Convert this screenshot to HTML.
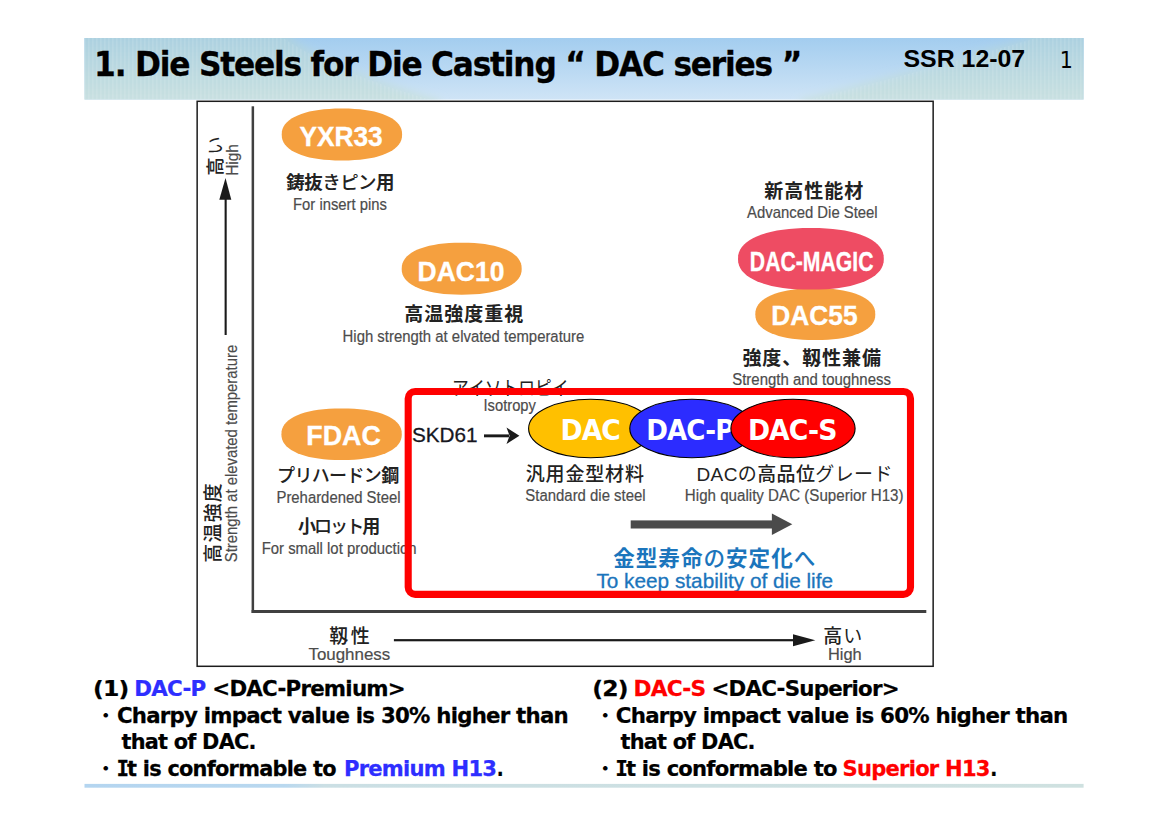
<!DOCTYPE html>
<html lang="en">
<head>
<meta charset="utf-8">
<title>1. Die Steels for Die Casting “ DAC series ”</title>
<style>
html,body{margin:0;padding:0;background:#fff;}
body{width:1168px;height:826px;overflow:hidden;position:relative;}
svg{position:absolute;left:0;top:0;display:block;}
text{white-space:pre;}
.tb{font-family:"DejaVu Sans","Liberation Sans",sans-serif;font-weight:700;fill:#000;}
.ar{font-family:"Liberation Sans",sans-serif;fill:#000;}
.dj{font-family:"DejaVu Sans","Liberation Sans",sans-serif;fill:#000;}
.en{font-family:"Liberation Sans",sans-serif;fill:#4c4c4c;stroke:#4c4c4c;stroke-width:0.2px;}
.jp{font-family:"Liberation Sans","Noto Sans CJK JP",sans-serif;fill:#222;font-weight:700;}
.jm{font-family:"Liberation Sans","Noto Sans CJK JP",sans-serif;fill:#222;font-weight:500;}
.jr{font-family:"Liberation Sans","Noto Sans CJK JP",sans-serif;fill:#222;font-weight:400;}
.lab{font-family:"Liberation Sans",sans-serif;font-weight:700;fill:#fff;stroke:#fff;stroke-width:0.35px;}
.big{font-family:"DejaVu Sans","Liberation Sans",sans-serif;font-weight:700;fill:#fff;}
.m{font-weight:500;}
.r{font-weight:400;}
.mi{font-family:"DejaVu Sans Mono","DejaVu Sans",monospace;}
.b{font-weight:700;}
.cb{fill:#2e2eff;}
.cr{fill:#ff0000;}
.sk{fill:#1b75bc;}
</style>
</head>
<body>
<svg width="1168" height="826" viewBox="0 0 1168 826">
<defs>
<linearGradient id="sky" x1="0" y1="0" x2="0" y2="1">
<stop offset="0" stop-color="#a3cdef"/><stop offset="1" stop-color="#cfe4f6"/>
</linearGradient>
<linearGradient id="hz" x1="0" y1="0" x2="0" y2="1">
<stop offset="0" stop-color="#a9cfe0"/><stop offset="1" stop-color="#cde3e1"/>
</linearGradient>
<linearGradient id="foot" x1="0" y1="0" x2="1" y2="0">
<stop offset="0" stop-color="#b4d5f0"/><stop offset="0.2" stop-color="#b9d8ef"/><stop offset="0.24" stop-color="#cbdfe4"/><stop offset="1" stop-color="#cfe1e0"/>
</linearGradient>
<clipPath id="hclip"><rect x="84.5" y="38" width="999.1" height="61.6"/></clipPath>
<clipPath id="tclip"><path d="M70,30 L283,30 L283,38 C312,58 372,84 432,100 L432,110 L70,110 Z"/><path d="M1100,30 L1036,30 L1036,38 C968,58 888,80 808,100 L808,110 L1100,110 Z"/></clipPath>
<filter id="soft" x="-5%" y="-20%" width="110%" height="140%"><feGaussianBlur stdDeviation="4"/></filter>
<pattern id="stripes" x="0" y="0" width="4" height="4" patternUnits="userSpaceOnUse"><rect x="0" y="0" width="1.6" height="4" fill="#fff" opacity="0.10"/></pattern>
</defs>

<!-- header band -->
<g id="header">
<rect x="84.5" y="38" width="999.1" height="61.6" fill="url(#sky)"/>
<g clip-path="url(#hclip)"><g filter="url(#soft)">
<path d="M70,30 L291,30 L291,38 C320,58 380,84 440,100 L440,110 L70,110 Z" fill="url(#hz)"/>
<path d="M1100,30 L1028,30 L1028,38 C960,58 880,80 800,100 L800,110 L1100,110 Z" fill="url(#hz)"/>
</g>
<g clip-path="url(#tclip)"><rect x="84.5" y="38" width="999.1" height="61.6" fill="url(#stripes)"/></g>
</g>
<text class="tb stk" transform="translate(94.11 76.30) scale(0.9338 1)" style="font-size:33.5px;letter-spacing:-1.300px;stroke:#000;stroke-width:0.3px;">1. Die Steels for Die Casting “ DAC series ”</text>
<text class="ar" transform="translate(903.51 67.40) scale(1.0202 1)" style="font-size:24.4px;font-weight:700;">SSR 12-07</text>
<text class="dj" transform="translate(1059.74 67.50) scale(0.9290 1)" style="font-size:22.2px;">1</text>
</g>

<!-- chart -->
<g id="chart">
<rect x="197.15" y="101.3" width="736" height="565" fill="#fff" stroke="#1c1c1c" stroke-width="1.5"/>
<rect x="251.6" y="106.3" width="2.5" height="506.7" fill="#404040"/>
<rect x="251.6" y="610" width="674.7" height="3" fill="#404040"/>

<text class="jm" transform="translate(221.52 175.84) rotate(-90)" style="font-size:18.5px;letter-spacing:2.686px;">高<tspan class="r">い</tspan></text>
<text class="en" transform="translate(237.90 175.84) rotate(-90) scale(0.9363 1)" style="font-size:16.5px;">High</text>
<polygon points="225.5,178 231.3,199.8 219.3,199.8" fill="#1a1a1a"/>
<rect x="224.6" y="199" width="2.1" height="136" fill="#1a1a1a"/>
<text class="jm" transform="translate(220.42 562.66) rotate(-90)" style="font-size:19px;letter-spacing:1.178px;">高温強度</text>
<text class="en" transform="translate(236.50 562.25) rotate(-90) scale(0.8859 1)" style="font-size:16.8px;">Strength at elevated temperature</text>

<text class="jm" transform="translate(329.22 643.44)" style="font-size:19px;letter-spacing:2.545px;">靱性</text>
<text class="en" transform="translate(308.42 660.00) scale(1.0078 1)" style="font-size:16.8px;">Toughness</text>
<rect x="393.9" y="639.1" width="401" height="2.2" fill="#1a1a1a"/>
<polygon points="815.3,640.3 793,634.2 793,646.3" fill="#1a1a1a"/>
<text class="jm" transform="translate(823.14 643.42)" style="font-size:19px;letter-spacing:1.196px;">高<tspan class="r">い</tspan></text>
<text class="en" transform="translate(828.02 660.00) scale(0.9764 1)" style="font-size:16.8px;">High</text>

<path d="M402.1,134.5 L401.9,137.5 L401.3,140.0 L400.3,142.3 L398.9,144.5 L397.1,146.6 L394.9,148.5 L392.3,150.4 L389.4,152.1 L386.1,153.6 L382.5,155.0 L378.6,156.3 L374.4,157.4 L369.9,158.3 L365.1,159.1 L360.0,159.7 L354.6,160.1 L348.8,160.4 L341.9,160.5 L335.0,160.4 L329.2,160.1 L323.8,159.7 L318.7,159.1 L313.9,158.3 L309.4,157.4 L305.2,156.3 L301.3,155.0 L297.7,153.6 L294.4,152.1 L291.5,150.4 L288.9,148.5 L286.7,146.6 L284.9,144.5 L283.5,142.3 L282.5,140.0 L281.9,137.5 L281.7,134.5 L281.9,131.5 L282.5,129.0 L283.5,126.7 L284.9,124.5 L286.7,122.4 L288.9,120.5 L291.5,118.6 L294.4,116.9 L297.7,115.4 L301.3,114.0 L305.2,112.7 L309.4,111.6 L313.9,110.7 L318.7,109.9 L323.8,109.3 L329.2,108.9 L335.0,108.6 L341.9,108.5 L348.8,108.6 L354.6,108.9 L360.0,109.3 L365.1,109.9 L369.9,110.7 L374.4,111.6 L378.6,112.7 L382.5,114.0 L386.1,115.4 L389.4,116.9 L392.3,118.6 L394.9,120.5 L397.1,122.4 L398.9,124.5 L400.3,126.7 L401.3,129.0 L401.9,131.5Z" fill="#f5a03f"/>
<text class="lab" transform="translate(299.40 146.20) scale(0.9395 1)" style="font-size:28px;">YXR33</text>
<text class="jp" transform="translate(286.31 188.79)" style="font-size:18.5px;letter-spacing:-0.557px;">鋳抜<tspan class="m">きピン</tspan>用</text>
<text class="en" transform="translate(293.06 210.00) scale(0.9089 1)" style="font-size:16.3px;">For insert pins</text>

<path d="M521.7,268.7 L521.5,271.7 L520.9,274.2 L519.9,276.5 L518.5,278.7 L516.7,280.8 L514.5,282.7 L512.0,284.6 L509.0,286.3 L505.8,287.8 L502.2,289.2 L498.3,290.5 L494.1,291.6 L489.6,292.5 L484.8,293.3 L479.7,293.9 L474.4,294.3 L468.6,294.6 L461.7,294.7 L454.8,294.6 L449.0,294.3 L443.7,293.9 L438.6,293.3 L433.8,292.5 L429.3,291.6 L425.1,290.5 L421.2,289.2 L417.6,287.8 L414.4,286.3 L411.4,284.6 L408.9,282.7 L406.7,280.8 L404.9,278.7 L403.5,276.5 L402.5,274.2 L401.9,271.7 L401.7,268.7 L401.9,265.7 L402.5,263.2 L403.5,260.9 L404.9,258.7 L406.7,256.6 L408.9,254.7 L411.4,252.8 L414.4,251.1 L417.6,249.6 L421.2,248.2 L425.1,246.9 L429.3,245.8 L433.8,244.9 L438.6,244.1 L443.7,243.5 L449.0,243.1 L454.8,242.8 L461.7,242.7 L468.6,242.8 L474.4,243.1 L479.7,243.5 L484.8,244.1 L489.6,244.9 L494.1,245.8 L498.3,246.9 L502.2,248.2 L505.8,249.6 L509.0,251.1 L512.0,252.8 L514.5,254.7 L516.7,256.6 L518.5,258.7 L519.9,260.9 L520.9,263.2 L521.5,265.7Z" fill="#f5a03f"/>
<text class="lab" transform="translate(417.60 280.60) scale(0.9458 1)" style="font-size:28px;">DAC10</text>
<text class="jp" transform="translate(404.16 320.50)" style="font-size:19px;letter-spacing:1.039px;">高温強度重視</text>
<text class="en" transform="translate(342.57 342.00) scale(0.9141 1)" style="font-size:16.3px;">High strength at elvated temperature</text>

<text class="jp" transform="translate(764.24 198.20)" style="font-size:19px;letter-spacing:1.021px;">新高性能材</text>
<text class="en" transform="translate(747.09 218.00) scale(0.9127 1)" style="font-size:16.3px;">Advanced Die Steel</text>
<path d="M875.3,314.2 L875.1,317.2 L874.5,319.7 L873.5,322.0 L872.1,324.2 L870.3,326.2 L868.1,328.2 L865.6,330.0 L862.6,331.7 L859.4,333.2 L855.8,334.6 L851.9,335.9 L847.7,337.0 L843.2,337.9 L838.4,338.7 L833.3,339.3 L828.0,339.7 L822.2,340.0 L815.3,340.1 L808.4,340.0 L802.6,339.7 L797.3,339.3 L792.2,338.7 L787.4,337.9 L782.9,337.0 L778.7,335.9 L774.8,334.6 L771.2,333.2 L768.0,331.7 L765.0,330.0 L762.5,328.2 L760.3,326.2 L758.5,324.2 L757.1,322.0 L756.1,319.7 L755.5,317.2 L755.3,314.2 L755.5,311.2 L756.1,308.7 L757.1,306.4 L758.5,304.2 L760.3,302.2 L762.5,300.2 L765.0,298.4 L768.0,296.7 L771.2,295.2 L774.8,293.8 L778.7,292.5 L782.9,291.4 L787.4,290.5 L792.2,289.7 L797.3,289.1 L802.6,288.7 L808.4,288.4 L815.3,288.3 L822.2,288.4 L828.0,288.7 L833.3,289.1 L838.4,289.7 L843.2,290.5 L847.7,291.4 L851.9,292.5 L855.8,293.8 L859.4,295.2 L862.6,296.7 L865.6,298.4 L868.1,300.2 L870.3,302.2 L872.1,304.2 L873.5,306.4 L874.5,308.7 L875.1,311.2Z" fill="#f5a03f"/>
<path d="M883.8,258.8 L883.6,262.3 L882.8,265.3 L881.6,268.1 L879.9,270.7 L877.7,273.1 L875.1,275.4 L872.0,277.6 L868.4,279.6 L864.5,281.4 L860.1,283.1 L855.4,284.6 L850.3,285.9 L844.8,287.0 L839.0,287.9 L832.8,288.7 L826.3,289.2 L819.2,289.5 L810.9,289.6 L802.6,289.5 L795.5,289.2 L789.0,288.7 L782.8,287.9 L777.0,287.0 L771.5,285.9 L766.4,284.6 L761.7,283.1 L757.3,281.4 L753.4,279.6 L749.8,277.6 L746.7,275.4 L744.1,273.1 L741.9,270.7 L740.2,268.1 L739.0,265.3 L738.2,262.3 L738.0,258.8 L738.2,255.3 L739.0,252.3 L740.2,249.5 L741.9,246.9 L744.1,244.5 L746.7,242.2 L749.8,240.0 L753.4,238.0 L757.3,236.2 L761.7,234.5 L766.4,233.0 L771.5,231.7 L777.0,230.6 L782.8,229.7 L789.0,228.9 L795.5,228.4 L802.6,228.1 L810.9,228.0 L819.2,228.1 L826.3,228.4 L832.8,228.9 L839.0,229.7 L844.8,230.6 L850.3,231.7 L855.4,233.0 L860.1,234.5 L864.5,236.2 L868.4,238.0 L872.0,240.0 L875.1,242.2 L877.7,244.5 L879.9,246.9 L881.6,249.5 L882.8,252.3 L883.6,255.3Z" fill="#ee4c63"/>
<text class="lab" transform="translate(749.82 270.90) scale(0.7448 1)" style="font-size:28.5px;">DAC-MAGIC</text>
<text class="lab" transform="translate(771.20 324.50) scale(0.9407 1)" style="font-size:28px;">DAC55</text>
<text class="jp" transform="translate(742.41 364.70)" style="font-size:19px;letter-spacing:0.924px;">強度、靱性兼備</text>
<text class="en" transform="translate(732.25 385.20) scale(0.9180 1)" style="font-size:16.3px;">Strength and toughness</text>

<path d="M401.8,434.2 L401.6,437.1 L401.0,439.6 L400.0,442.0 L398.6,444.1 L396.8,446.2 L394.6,448.1 L392.0,449.9 L389.1,451.6 L385.8,453.2 L382.2,454.6 L378.3,455.8 L374.1,456.9 L369.6,457.8 L364.8,458.6 L359.7,459.2 L354.3,459.7 L348.5,459.9 L341.6,460.0 L334.7,459.9 L328.9,459.7 L323.5,459.2 L318.4,458.6 L313.6,457.8 L309.1,456.9 L304.9,455.8 L301.0,454.6 L297.4,453.2 L294.1,451.6 L291.2,449.9 L288.6,448.1 L286.4,446.2 L284.6,444.1 L283.2,442.0 L282.2,439.6 L281.6,437.1 L281.4,434.2 L281.6,431.3 L282.2,428.8 L283.2,426.4 L284.6,424.3 L286.4,422.2 L288.6,420.3 L291.2,418.5 L294.1,416.8 L297.4,415.2 L301.0,413.8 L304.9,412.6 L309.1,411.5 L313.6,410.6 L318.4,409.8 L323.5,409.2 L328.9,408.7 L334.7,408.5 L341.6,408.4 L348.5,408.5 L354.3,408.7 L359.7,409.2 L364.8,409.8 L369.6,410.6 L374.1,411.5 L378.3,412.6 L382.2,413.8 L385.8,415.2 L389.1,416.8 L392.0,418.5 L394.6,420.3 L396.8,422.2 L398.6,424.3 L400.0,426.4 L401.0,428.8 L401.6,431.3Z" fill="#f5a03f"/>
<text class="lab" transform="translate(306.31 445.40) scale(0.9592 1)" style="font-size:28px;">FDAC</text>
<text class="jm" transform="translate(277.07 481.52)" style="font-size:18px;letter-spacing:-0.651px;">プリハードン<tspan class="b">鋼</tspan></text>
<text class="en" transform="translate(276.47 503.00) scale(0.9132 1)" style="font-size:16.3px;">Prehardened Steel</text>
<text class="jm" transform="translate(297.90 533.28)" style="font-size:18px;letter-spacing:-1.910px;"><tspan class="b">小</tspan>ロット<tspan class="b">用</tspan></text>
<text class="en" transform="translate(261.66 554.20) scale(0.9148 1)" style="font-size:16.3px;">For small lot production</text>

<text class="jr" transform="translate(452.09 395.17) scale(0.8451 1)" style="font-size:19.8px;">アイソトロピイ</text>
<text class="en" transform="translate(483.52 411.20) scale(0.8871 1)" style="font-size:16.6px;">Isotropy</text>

<text class="ar stk" transform="translate(411.91 442.40) scale(0.9866 1)" style="font-size:21px;fill:#16161e;stroke:#16161e;stroke-width:0.3px;">SKD61</text>
<rect x="484" y="434.4" width="25" height="2.9" fill="#1a1a1a"/>
<polygon points="519.4,435.8 506.5,427.6 509.6,435.8 506.5,443.9" fill="#1a1a1a"/>

<ellipse cx="590.7" cy="428.5" rx="62.1" ry="29.3" fill="#ffc000" stroke="#000" stroke-width="1.1"/>
<text class="big" transform="translate(560.51 439.70) scale(0.9589 1)" style="font-size:27.75px;letter-spacing:-1.000px;">DAC</text>
<ellipse cx="691.9" cy="428.5" rx="62.1" ry="29.3" fill="#2c2cff" stroke="#000" stroke-width="1.1"/>
<text class="big" transform="translate(646.31 439.70) scale(0.9429 1)" style="font-size:27.75px;letter-spacing:-1.000px;">DAC-P</text>
<ellipse cx="793" cy="428.5" rx="62.1" ry="29.3" fill="#ff0000" stroke="#000" stroke-width="1.1"/>
<text class="big" transform="translate(747.91 439.70) scale(0.9622 1)" style="font-size:27.75px;letter-spacing:-1.000px;">DAC-S</text>

<text class="jm" transform="translate(525.75 480.72)" style="font-size:19px;letter-spacing:0.842px;">汎用金型材料</text>
<text class="en" transform="translate(525.35 501.20) scale(0.9053 1)" style="font-size:16.5px;">Standard die steel</text>
<text class="jr" transform="translate(696.50 480.52)" style="font-size:19px;letter-spacing:0.383px;"><tspan class="ar" style="font-weight:400;fill:#222">DAC</tspan>の<tspan class="m">高品位</tspan>グレード</text>
<text class="en" transform="translate(684.86 501.00) scale(0.9172 1)" style="font-size:16.5px;">High quality DAC (Superior H13)</text>

<rect x="630.7" y="520.4" width="142" height="8.1" fill="#4b4b4b"/>
<polygon points="792.3,524.3 771.9,513.6 771.9,535" fill="#4b4b4b"/>

<text class="jp" transform="translate(613.26 566.02)" style="font-size:21.6px;letter-spacing:0.958px;fill:#1b75bc;">金型寿命<tspan class="m">の</tspan>安定化<tspan class="m">へ</tspan></text>
<text class="ar stk" transform="translate(596.42 588.00) scale(1.0548 1)" style="font-size:19.7px;fill:#1b75bc;stroke:#1b75bc;stroke-width:0.3px;">To keep stability of die life</text>

<rect x="408.2" y="391.45" width="502.3" height="202.9" rx="7" ry="7" fill="none" stroke="#ff0000" stroke-width="7.1"/>
</g>

<!-- notes -->
<g id="notes">
<g><text class="tb stk" transform="translate(93.07 695.90) scale(1.0695 1)" style="font-size:22.0px;letter-spacing:-0.800px;stroke-width:0.25px;stroke:#000;">(1) </text><text class="tb stk" transform="translate(134.22 695.90) scale(0.9741 1)" style="font-size:22.0px;letter-spacing:-0.800px;fill:#2e2eff;stroke-width:0.25px;stroke:#2e2eff;">DAC-P </text><text class="tb stk" transform="translate(212.27 695.90) scale(0.9710 1)" style="font-size:22.0px;letter-spacing:-0.800px;stroke-width:0.25px;stroke:#000;">&lt;DAC-Premium&gt;</text></g>
<g><text class="jp" transform="translate(96.68 721.80)" style="font-size:18px;fill:#000;">・ </text><text class="tb stk" transform="translate(116.92 722.60) scale(0.9696 1)" style="font-size:22.0px;letter-spacing:-0.800px;stroke-width:0.25px;stroke:#000;">Charpy impact value is 30% higher than</text></g>
<g><text class="tb stk" transform="translate(121.46 749.20) scale(0.9476 1)" style="font-size:22.0px;letter-spacing:-0.800px;stroke-width:0.25px;stroke:#000;">that of DAC.</text></g>
<g><text class="jp" transform="translate(96.68 774.60)" style="font-size:18px;fill:#000;">・ </text><text class="tb stk" transform="translate(116.39 775.50) scale(0.9499 1)" style="font-size:22.0px;letter-spacing:-0.800px;stroke-width:0.25px;stroke:#000;"><tspan class="mi">I</tspan><tspan dx="-1.2">t is conformable to </tspan></text><text class="tb stk" transform="translate(343.95 775.50) scale(0.9594 1)" style="font-size:22.0px;letter-spacing:-0.800px;fill:#2e2eff;stroke-width:0.25px;stroke:#2e2eff;">Premium H13</text><text class="tb stk" transform="translate(496.67 775.50) scale(0.8249 1)" style="font-size:22.0px;letter-spacing:-0.800px;stroke-width:0.25px;stroke:#000;">.</text></g>
<g><text class="tb stk" transform="translate(592.37 695.90) scale(1.0706 1)" style="font-size:22.0px;letter-spacing:-0.800px;stroke-width:0.25px;stroke:#000;">(2) </text><text class="tb stk" transform="translate(633.51 695.90) scale(0.9864 1)" style="font-size:22.0px;letter-spacing:-0.800px;fill:#ff0000;stroke-width:0.25px;stroke:#ff0000;">DAC-S </text><text class="tb stk" transform="translate(711.47 695.90) scale(0.9702 1)" style="font-size:22.0px;letter-spacing:-0.800px;stroke-width:0.25px;stroke:#000;">&lt;DAC-Superior&gt;</text></g>
<g><text class="jp" transform="translate(596.18 721.80)" style="font-size:18px;fill:#000;">・ </text><text class="tb stk" transform="translate(615.82 722.60) scale(0.9707 1)" style="font-size:22.0px;letter-spacing:-0.800px;stroke-width:0.25px;stroke:#000;">Charpy impact value is 60% higher than</text></g>
<g><text class="tb stk" transform="translate(620.46 749.20) scale(0.9476 1)" style="font-size:22.0px;letter-spacing:-0.800px;stroke-width:0.25px;stroke:#000;">that of DAC.</text></g>
<g><text class="jp" transform="translate(596.18 774.60)" style="font-size:18px;fill:#000;">・ </text><text class="tb stk" transform="translate(615.15 775.50) scale(0.9587 1)" style="font-size:22.0px;letter-spacing:-0.800px;stroke-width:0.25px;stroke:#000;"><tspan class="mi">I</tspan><tspan dx="-1.2">t is conformable to </tspan></text><text class="tb stk" transform="translate(842.61 775.50) scale(0.9582 1)" style="font-size:22.0px;letter-spacing:-0.800px;fill:#ff0000;stroke-width:0.25px;stroke:#ff0000;">Superior H13</text><text class="tb stk" transform="translate(990.35 775.50) scale(0.8448 1)" style="font-size:22.0px;letter-spacing:-0.800px;stroke-width:0.25px;stroke:#000;">.</text></g>
</g>

<rect x="84.5" y="783.9" width="999.1" height="3.8" fill="url(#foot)"/>
</svg>
</body>
</html>
